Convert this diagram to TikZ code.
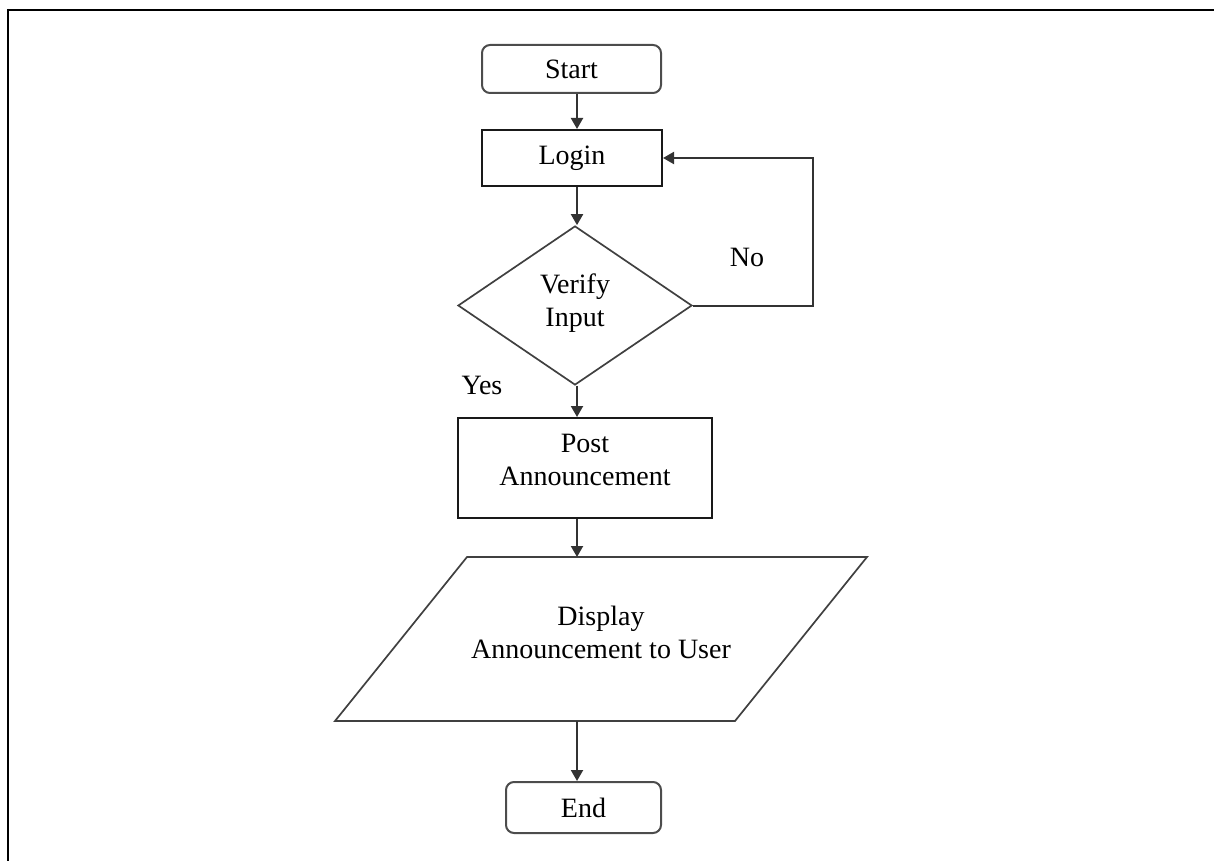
\documentclass[tikz,border=0pt]{standalone}
\usepackage{fontspec}
\setmainfont{Liberation Serif}
\usetikzlibrary{shapes.geometric,arrows.meta}
\begin{document}
\begin{tikzpicture}[x=1pt,y=-1pt,
  every node/.style={font=\fontsize{28}{33}\selectfont, align=center, inner sep=0pt},
  termbox/.style={draw=black!70, line width=2pt, rounded corners=8pt},
  procbox/.style={draw=black!90, line width=2pt},
  decbox/.style={draw=black!75, shape=diamond, line width=1.7pt},
  iobox/.style={draw=black!75, line width=1.7pt, line join=miter},
  arr/.style={draw=black!80, line width=2pt, -{Triangle[width=12pt,length=11pt]}},
  lbl/.style={}
]
\useasboundingbox (0,0) rectangle (1214,861);
% frame
\draw[line width=2.4pt] (7,10) -- (1214,10);
\draw[line width=2.4pt] (8,9) -- (8,861);

\coordinate (ax) at (577,0);
\coordinate (loopx) at (813,0);

\node[termbox, minimum width=179pt, minimum height=48pt] (start) at (571.5,69) {Start};
\node[procbox, minimum width=180pt, minimum height=56pt] (login) at (572,158) {Login};
\node[decbox, minimum width=234pt, minimum height=159pt] (dia) at (575,305.5) {};
\node (diatext) at (575,303) {Verify\\Input};
\node[procbox, minimum width=254pt, minimum height=100pt] (post) at (585,468) {};
\node (posttext) at (585,460) {Post\\Announcement};
% parallelogram
\coordinate (pbl) at (335,721);
\coordinate (ptl) at (467,557);
\coordinate (ptr) at (867,557);
\coordinate (pbr) at (735,721);
\draw[iobox] (pbl) -- (ptl) -- (ptr) -- (pbr) -- cycle;
\coordinate (disptop) at (577,557);
\coordinate (dispbot) at (577,721);
\node (disp) at (601,632) {Display\\Announcement to User};
\node[termbox, minimum width=155pt, minimum height=51pt] (end) at (583.5,807.5) {End};

\node[lbl] (no) at (747,257) {No};
\node[lbl] (yes) at (482,385) {Yes};

\draw[arr] (start.south -| ax) -- (login.north -| ax);
\draw[arr] (login.south -| ax) -- (dia.north -| ax);
\draw[arr] (dia.south -| ax) -- (post.north -| ax);
\draw[arr] (post.south -| ax) -- (disptop);
\draw[arr] (dispbot) -- (end.north -| ax);
\draw[arr] (dia.east) -- (dia.east -| loopx) |- (login.east);
\end{tikzpicture}
\end{document}
